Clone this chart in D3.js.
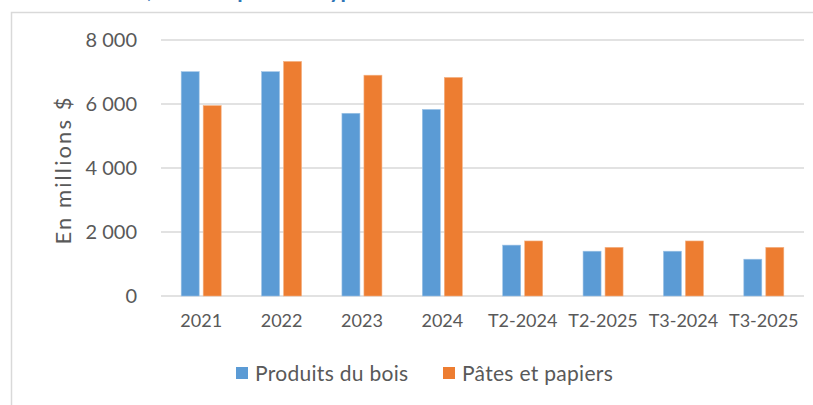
<!DOCTYPE html>
<html>
<head>
<meta charset="utf-8">
<script src="https://cdn.jsdelivr.net/npm/d3@7"></script>
<style>
  body { margin: 0; background: #fff; }
  svg { display: block; font-family: Lato, "Open Sans", sans-serif; }
</style>
</head>
<body>
<svg id="chart"></svg>
<script>
// data
const categories = ['2021', '2022', '2023', '2024', 'T2-2024', 'T2-2025', 'T3-2024', 'T3-2025'];
const bois = [7010, 7010, 5710, 5830, 1590, 1400, 1400, 1150];
const papiers = [5950, 7330, 6900, 6830, 1720, 1520, 1720, 1520];
const seriesNames = ['Produits du bois', 'Pâtes et papiers'];
const yTicks = [0, 2000, 4000, 6000, 8000];

const w = 813, h = 405;
const colors = ['#5b9bd5', '#ed7d31'];
const textCol = '#595959';

const svg = d3.select('#chart')
  .attr('width', w)
  .attr('height', h);

// title, cut off by the top of the picture
const titleHead = 'Livraisons manufacturières';
const title = svg.append('text')
  .attr('y', -2)
  .attr('fill', '#2e75b6')
  .attr('font-weight', 'bold')
  .attr('font-size', 22)
  .text(titleHead + ', selon le poids et types');
const headW = title.node().getSubStringLength(0, titleHead.length);
title.attr('x', 147 - headW);

// chart frame
svg.append('path')
  .attr('d', `M11.5,${h} V12.5 H${w}`)
  .attr('fill', 'none')
  .attr('stroke', '#d9d9d9')
  .attr('stroke-width', 1.5);

const m = { left: 161, right: 804, top: 40, bottom: 296 };

const x = d3.scaleBand()
  .domain(categories)
  .range([m.left, m.right]);

const y = d3.scaleLinear()
  .domain([0, 8000])
  .range([m.bottom, m.top]);

// gridlines
svg.append('g')
  .selectAll('line')
  .data(yTicks)
  .join('line')
  .attr('x1', m.left)
  .attr('x2', m.right)
  .attr('y1', d => y(d))
  .attr('y2', d => y(d))
  .attr('stroke', '#d9d9d9')
  .attr('stroke-width', 1.5);

// y axis labels
const fmt = d => d3.format(',')(d).replace(',', ' ');
const yAxis = d3.axisLeft(y).tickValues(yTicks).tickFormat(fmt).tickSize(0).tickPadding(24);
svg.append('g')
  .attr('transform', `translate(${m.left},0)`)
  .call(yAxis)
  .call(g => g.select('.domain').remove())
  .call(g => g.selectAll('text')
    .attr('fill', textCol)
    .attr('font-size', 20)
    .attr('font-family', 'Lato'));

// x axis labels
const xAxis = d3.axisBottom(x).tickSize(0).tickPadding(18);
svg.append('g')
  .attr('transform', `translate(0,${m.bottom})`)
  .call(xAxis)
  .call(g => g.select('.domain').remove())
  .call(g => g.selectAll('text')
    .attr('fill', textCol)
    .attr('font-size', 18)
    .attr('font-family', 'Lato'));

// bars
const barW = 18, gap = 4;
const sub = d3.scaleBand()
  .domain([0, 1])
  .range([0, barW * 2 + gap])
  .paddingInner(gap / (barW + gap));
[bois, papiers].forEach((vals, s) => {
  svg.append('g')
    .selectAll('rect')
    .data(vals)
    .join('rect')
    .attr('x', (v, i) => x(categories[i]) + (x.bandwidth() - (barW * 2 + gap)) / 2 + sub(s))
    .attr('y', v => y(v))
    .attr('width', sub.bandwidth())
    .attr('height', v => y(0) - y(v))
    .attr('fill', colors[s])
    .attr('stroke', s ? '#f4b183' : '#9dc3e6')
    .attr('stroke-width', 0.6);
});

// y axis title
svg.append('text')
  .attr('transform', 'translate(71,171) rotate(-90)')
  .attr('text-anchor', 'middle')
  .attr('fill', textCol)
  .attr('font-size', 22)
  .attr('textLength', 147)
  .attr('lengthAdjust', 'spacing')
  .text('En millions $');

// legend
const legendX = [236, 443];
const leg = svg.append('g')
  .selectAll('g')
  .data(seriesNames)
  .join('g')
  .attr('transform', (d, i) => `translate(${legendX[i]},367)`);
leg.append('rect')
  .attr('width', 12)
  .attr('height', 12)
  .attr('fill', (d, i) => colors[i]);
leg.append('text')
  .attr('x', 19)
  .attr('y', 14)
  .attr('fill', textCol)
  .attr('font-size', 21)
  .attr('letter-spacing', 0.3)
  .text(d => d);
</script>
</body>
</html>
